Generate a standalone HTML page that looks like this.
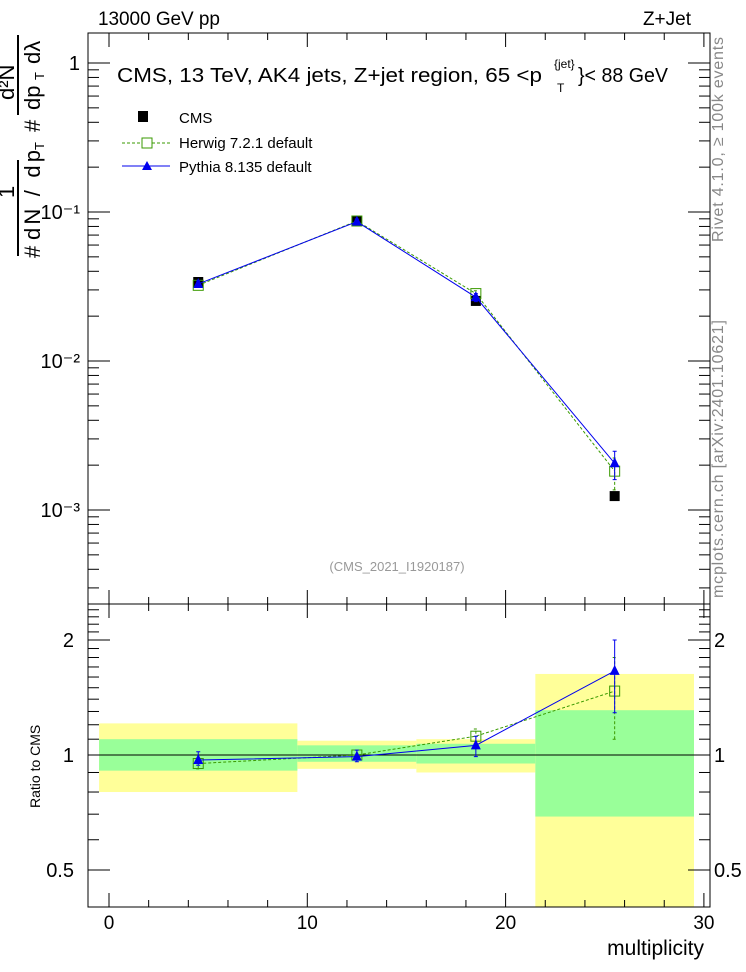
<!DOCTYPE html>
<html><head><meta charset="utf-8"><style>
html,body{margin:0;padding:0;background:#fff;}
svg{display:block;font-family:"Liberation Sans",sans-serif;}
</style></head><body>
<svg id="chart" width="746" height="972" viewBox="0 0 746 972">
<g id="bands"></g>
<g id="axes"></g>
<g id="series"></g>
<text x="98" y="25" font-size="19" textLength="122">13000 GeV pp</text>
<text x="691" y="25" font-size="19" text-anchor="end">Z+Jet</text>
<text x="117" y="82" font-size="20" textLength="425" lengthAdjust="spacingAndGlyphs">CMS, 13 TeV, AK4 jets, Z+jet region, 65 &lt;p</text>
<text x="554" y="68" font-size="12">{jet}</text>
<text x="557" y="92" font-size="12">T</text>
<text x="578" y="82" font-size="20" textLength="90" lengthAdjust="spacingAndGlyphs">}&lt; 88 GeV</text>
<g>
 <rect x="138" y="111" width="10" height="11" fill="#000"/>
 <text x="179" y="123" font-size="15">CMS</text>
 <line x1="122" y1="143" x2="170" y2="143" stroke="#3a9a00" stroke-dasharray="3,2"/>
 <rect x="142" y="138" width="10" height="10" fill="#fff" stroke="#3a9a00"/>
 <text x="179" y="148" font-size="15">Herwig 7.2.1 default</text>
 <line x1="122" y1="166" x2="170" y2="166" stroke="#0000ee"/>
 <polygon points="147,161 142,170 152,170" fill="#0000ee"/>
 <text x="179" y="172" font-size="15">Pythia 8.135 default</text>
</g>
<text x="397" y="571" font-size="13" fill="#999" text-anchor="middle">(CMS_2021_I1920187)</text>
<text transform="translate(723,242) rotate(-90)" font-size="16" fill="#888" textLength="205">Rivet 4.1.0, ≥ 100k events</text>
<text transform="translate(723,598) rotate(-90)" font-size="16" fill="#888" textLength="278">mcplots.cern.ch [arXiv:2401.10621]</text>
<g font-size="22">
 <line x1="18" y1="160" x2="18" y2="256" stroke="#000" stroke-width="2"/>
 <text transform="translate(14,198) rotate(-90)" font-size="22">1</text>
 <text transform="translate(40,258) rotate(-90)">#</text>
 <text transform="translate(40,240) rotate(-90)" textLength="90">dN / dp</text>
 <text transform="translate(44,150) rotate(-90)" font-size="13">T</text>
 <text transform="translate(40,132) rotate(-90)">#</text>
 <line x1="18" y1="35" x2="18" y2="115" stroke="#000" stroke-width="2"/>
 <text transform="translate(14,100) rotate(-90)">d²N</text>
 <text transform="translate(40,110) rotate(-90)">dp</text>
 <text transform="translate(44,80) rotate(-90)" font-size="13">T</text>
 <text transform="translate(40,64) rotate(-90)">dλ</text>
</g>
<text transform="translate(40,808) rotate(-90)" font-size="14">Ratio to CMS</text>
<text x="704" y="955" font-size="21" text-anchor="end">multiplicity</text>
</svg>
<script>
const xCenters = [4.5, 12.5, 18.5, 25.5];
const binEdges = [-0.5, 9.5, 15.5, 21.5, 29.5];
const cmsValues = [0.0339, 0.087, 0.0253, 0.00124];
const herwigRatio = [0.95, 1.0, 1.12, 1.47];
const herwigErrLo = [0.92, 0.97, 1.07, 1.10];
const herwigErrHi = [0.98, 1.03, 1.17, 1.80];
const pythiaRatio = [0.97, 0.99, 1.06, 1.66];
const pythiaErrLo = [0.94, 0.96, 0.99, 1.29];
const pythiaErrHi = [1.02, 1.03, 1.12, 2.00];
const greenLo = [0.91, 0.96, 0.95, 0.69];
const greenHi = [1.10, 1.06, 1.07, 1.31];
const yellowLo = [0.80, 0.92, 0.90, 0.30];
const yellowHi = [1.21, 1.09, 1.10, 1.63];
const xTicks = [0, 10, 20, 30];
const topTicks = [1, 0.1, 0.01, 0.001];
const topTickLabels = ["1", "10⁻¹", "10⁻²", "10⁻³"];
const ratioTicks = [2, 1, 0.5];
const ratioTickLabels = ["2", "1", "0.5"];

const NS = "http://www.w3.org/2000/svg";
const L = 88, R = 710, T1 = 33, B1 = 604, T2 = 604, B2 = 907;
const X = v => 109 + (v) * 19.83;
const Y1 = v => 63 - Math.log10(v) * 149;
const Y2 = v => 755 - Math.log10(v) * 382;
function mk(tag, attrs, parent) {
  const e = document.createElementNS(NS, tag);
  for (const k in attrs) e.setAttribute(k, attrs[k]);
  parent.appendChild(e); return e;
}
const bands = document.getElementById('bands');
const axes = document.getElementById('axes');
const series = document.getElementById('series');
const clipB = v => Math.max(T2, Math.min(B2, v));

for (let i = 0; i < xCenters.length; i++) {
  const x0 = X(binEdges[i]), x1 = X(binEdges[i + 1]);
  let y = mk('rect', {x: x0, y: clipB(Y2(yellowHi[i])), width: x1 - x0, height: clipB(Y2(yellowLo[i])) - clipB(Y2(yellowHi[i])), fill: '#ffff99'}, bands);
  
  
  let g = mk('rect', {x: x0, y: Y2(greenHi[i]), width: x1 - x0, height: Y2(greenLo[i]) - Y2(greenHi[i]), fill: '#99ff99'}, bands);
  
  
}

let f1 = mk('rect', {x: L, y: T1, width: R - L, height: B1 - T1, fill: 'none', stroke: '#000'}, axes);


let f2 = mk('rect', {x: L, y: T2, width: R - L, height: B2 - T2, fill: 'none', stroke: '#000'}, axes);


let one = mk('line', {x1: L, x2: R, y1: Y2(1), y2: Y2(1), stroke: '#000'}, axes);



for (let v = 0; v <= 30; v += 2) {
  const major = v % 10 === 0, len = major ? 14 : 7, x = X(v);
  mk('line', {x1: x, x2: x, y1: T1, y2: T1 + len, stroke: '#000'}, axes);
  mk('line', {x1: x, x2: x, y1: B1, y2: B1 - len, stroke: '#000'}, axes);
  mk('line', {x1: x, x2: x, y1: T2, y2: T2 + len, stroke: '#000'}, axes);
  mk('line', {x1: x, x2: x, y1: B2, y2: B2 - len, stroke: '#000'}, axes);
}
xTicks.forEach(v => {
  const t = mk('text', {x: X(v), y: 929, 'font-size': 19, 'text-anchor': 'middle'}, axes);
  t.textContent = v;
  
  
});
for (let d = -4; d <= 0; d++) {
  for (let m = 1; m <= 9; m++) {
    const v = m * Math.pow(10, d), y = Y1(v);
    if (y < T1 || y > B1) continue;
    const len = m === 1 ? 22 : 11;
    mk('line', {x1: L, x2: L + len, y1: y, y2: y, stroke: '#000'}, axes);
    mk('line', {x1: R, x2: R - len, y1: y, y2: y, stroke: '#000'}, axes);
  }
}
topTicks.forEach((v, i) => {
  const t = mk('text', {x: 80, y: Y1(v) + 7, 'font-size': 20, 'text-anchor': 'end'}, axes);
  t.textContent = topTickLabels[i];
  
  
});
[0.4,0.5,0.6,0.7,0.8,0.9,1,1.1,1.2,1.3,1.4,1.5,1.6,1.7,1.8,1.9,2,2.1,2.2,2.3,2.4].forEach(v => {
  const y = Y2(v); if (y < T2 || y > B2) return;
  const len = (v === 1 || v === 2 || v === 0.5) ? 22 : 11;
  mk('line', {x1: L, x2: L + len, y1: y, y2: y, stroke: '#000'}, axes);
  mk('line', {x1: R, x2: R - len, y1: y, y2: y, stroke: '#000'}, axes);
});
ratioTicks.forEach((v, i) => {
  const t = mk('text', {x: 74, y: Y2(v) + 7, 'font-size': 20, 'text-anchor': 'end'}, axes);
  t.textContent = ratioTickLabels[i];
  
  
  const t2 = mk('text', {x: 714, y: Y2(v) + 7, 'font-size': 20}, axes);
  t2.textContent = ratioTickLabels[i];
  
  
});

function drawSeries(Yf, vals, lo, hi, color, dash, marker, name, withLine) {
  if (withLine) {
    const pts = xCenters.map((x, i) => X(x) + ',' + Yf(vals[i])).join(' ');
    const pl = mk('polyline', {points: pts, fill: 'none', stroke: color, 'stroke-dasharray': dash || 'none'}, series);
    
    
  }
  xCenters.forEach((xv, i) => {
    const x = X(xv), y = Yf(vals[i]);
    if (lo) {
      const e = mk('path', {d: `M${x},${Yf(lo[i])}V${Yf(hi[i])}M${x-2},${Yf(lo[i])}H${x+2}M${x-2},${Yf(hi[i])}H${x+2}`, stroke: color, fill: 'none', 'stroke-dasharray': dash || 'none'}, series);
      
      
    }
    let m;
    if (marker === 'square') m = mk('rect', {x: x - 5, y: y - 5, width: 10, height: 10, fill: 'none', stroke: color}, series);
    else if (marker === 'tri') m = mk('polygon', {points: `${x},${y-6} ${x-5},${y+4} ${x+5},${y+4}`, fill: color}, series);
    else m = mk('rect', {x: x - 5, y: y - 5, width: 10, height: 10, fill: '#000'}, series);
    
    
  });
}
const herwigTop = cmsValues.map((v, i) => v * herwigRatio[i]);
const pythiaTop = cmsValues.map((v, i) => v * pythiaRatio[i]);
const hLoTop = cmsValues.map((v, i) => v * herwigErrLo[i]);
const hHiTop = cmsValues.map((v, i) => v * herwigErrHi[i]);
const pLoTop = cmsValues.map((v, i) => v * pythiaErrLo[i]);
const pHiTop = cmsValues.map((v, i) => v * pythiaErrHi[i]);
drawSeries(Y1, cmsValues, null, null, '#000', null, 'cms', 'cms', false);
drawSeries(Y1, herwigTop, hLoTop, hHiTop, '#3a9a00', '3,2', 'square', 'herwig', true);
drawSeries(Y1, pythiaTop, pLoTop, pHiTop, '#0000ee', null, 'tri', 'pythia', true);
drawSeries(Y2, herwigRatio, herwigErrLo, herwigErrHi, '#3a9a00', '3,2', 'square', 'herwig-ratio', true);
drawSeries(Y2, pythiaRatio, pythiaErrLo, pythiaErrHi, '#0000ee', null, 'tri', 'pythia-ratio', true);
</script>
</body></html>
